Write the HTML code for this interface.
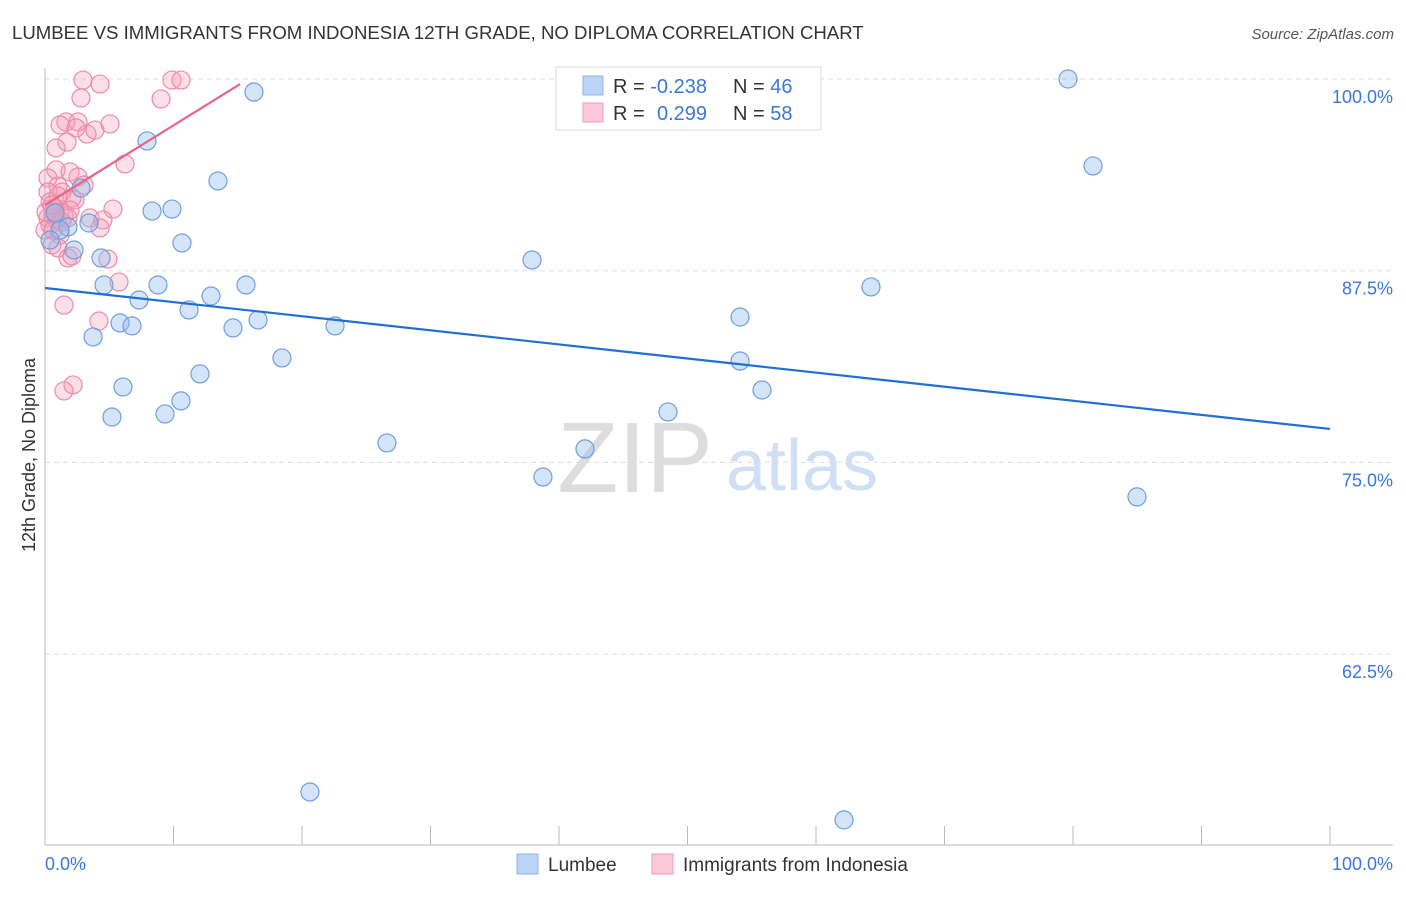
<!DOCTYPE html>
<html><head><meta charset="utf-8"><style>
body{margin:0;background:#fff;font-family:"Liberation Sans",sans-serif;}
svg text{font-family:"Liberation Sans",sans-serif;}
</style></head><body>
<svg id="chart" width="1406" height="892" xmlns="http://www.w3.org/2000/svg">
<text x="12" y="39" font-size="18.6" fill="#333">LUMBEE VS IMMIGRANTS FROM INDONESIA 12TH GRADE, NO DIPLOMA CORRELATION CHART</text>
<text x="1394" y="39" font-size="15" fill="#555" text-anchor="end" font-style="italic">Source: ZipAtlas.com</text>
<g>
<text x="635" y="492" font-size="100" fill="#ddd" text-anchor="middle" font-family="Liberation Serif">ZIP</text>
<text x="802" y="490" font-size="72" fill="#cfe0f5" text-anchor="middle">atlas</text>
</g>
<g id="grid"></g>
<g id="axes"></g>
<g id="pts"></g>
<g id="lines"></g>
<text transform="translate(35,455) rotate(-90)" font-size="18" fill="#333" text-anchor="middle">12th Grade, No Diploma</text>
<text x="45" y="870" font-size="18" fill="#3b78d4">0.0%</text>
<text x="1393" y="870" font-size="18" fill="#3b78d4" text-anchor="end">100.0%</text>
<g>
<rect x="556" y="67" width="265" height="63" fill="#fff" stroke="#ddd"/>
<rect x="583" y="76" width="20" height="19" fill="#bcd4f6" stroke="#8fb3e8"/>
<rect x="583" y="103" width="20" height="19" fill="#fbc9d8" stroke="#f0a0b8"/>
<text x="613" y="93" font-size="20" fill="#333">R = <tspan fill="#3b78d4">-0.238</tspan><tspan x="733">N = </tspan><tspan fill="#3b78d4">46</tspan></text>
<text x="613" y="120" font-size="20" fill="#333">R = <tspan x="657" fill="#3b78d4">0.299</tspan><tspan x="733">N = </tspan><tspan fill="#3b78d4">58</tspan></text>
</g>
<g>
<rect x="517" y="854" width="21" height="20" fill="#bcd4f6" stroke="#8fb3e8"/>
<text x="548" y="871" font-size="19" fill="#333">Lumbee</text>
<rect x="652" y="854" width="21" height="20" fill="#fbc9d8" stroke="#f0a0b8"/>
<text x="683" y="871" font-size="19" fill="#333">Immigrants from Indonesia</text>
</g>
</svg>
<script>
const yTicks=[100,87.5,75,62.5];
const yTickLabels=["100.0%","87.5%","75.0%","62.5%"];
const xTicks=[10,20,30,40,50,60,70,80,90,100];
const blueX=[16.26,7.94,13.46,2.80,8.33,9.88,3.42,1.79,10.66,2.26,4.36,37.90,4.59,8.79,15.64,7.32,12.92,11.21,16.58,14.63,5.84,6.77,22.57,3.74,18.44,6.07,12.06,10.58,5.21,9.34,26.61,42.02,38.75,48.48,54.09,54.09,55.80,64.28,79.61,81.56,84.98,20.62,62.18,0.78,1.17,0.39];
const blueY=[99.15,95.96,93.35,92.89,91.39,91.52,90.61,90.35,89.31,88.85,88.33,88.20,86.57,86.57,86.57,85.59,85.85,84.94,84.29,83.77,84.09,83.90,83.90,83.18,81.81,79.92,80.77,79.01,77.96,78.16,76.27,75.88,74.05,78.29,84.48,81.61,79.72,86.44,100,94.33,72.75,53.51,51.69,91.26,90.15,89.50];
const pinkX=[2.96,4.28,9.88,10.58,2.80,9.03,1.63,2.57,1.17,2.41,3.27,1.71,0.86,6.23,0.86,1.95,2.57,0.23,1.01,0.23,1.32,2.10,2.33,0.39,5.29,0.78,1.17,0.62,0.23,0.93,3.50,4.51,0.39,1.48,0,1.17,0.54,1.01,1.79,4.90,5.76,1.48,4.20,2.18,1.48,0.08,1.95,0.62,3.89,5.06,2.10,1.01,3.04,4.28,1.32,0.78,1.79,0.54];
const pinkY=[99.93,99.67,99.93,99.93,98.76,98.70,97.20,97.20,97.00,96.81,96.41,95.89,95.50,94.46,94.07,93.94,93.61,93.55,93.02,92.63,92.63,92.24,92.11,91.98,91.52,91.59,91.33,91.13,90.94,90.81,90.94,90.81,90.48,91.07,90.15,89.83,89.18,88.98,88.33,88.26,86.76,85.26,84.22,80.05,79.66,91.33,91.46,90.15,96.67,97.07,88.46,92.37,93.09,90.29,90.68,91.33,90.94,91.79];
const blueTrend=[[0,86.37],[100,77.18]];
const pinkTrend=[[0,91.78],[15.18,99.67]];
const NS="http://www.w3.org/2000/svg";
const X=v=>45+v*12.85;
const Y=v=>79+(100-v)*191.7/12.5;
function mk(tag,attrs,parent){const e=document.createElementNS(NS,tag);for(const k in attrs)e.setAttribute(k,attrs[k]);document.getElementById(parent).appendChild(e);return e;}
yTicks.forEach((t,i)=>{
  const l=mk('line',{x1:45,x2:1393,y1:Y(t),y2:Y(t),stroke:'#ddd','stroke-dasharray':'5,4'},'grid');
  
  
  const tx=mk('text',{x:1393,y:Y(t)+24,'font-size':18,fill:'#3b78d4','text-anchor':'end'},'grid');
  tx.textContent=yTickLabels[i];
  
  
});
const ax=mk('line',{x1:45,x2:45,y1:68,y2:845,stroke:'#bbb'},'axes');


const bx=mk('line',{x1:45,x2:1393,y1:845,y2:845,stroke:'#bbb'},'axes');


xTicks.forEach(t=>{
  const l=mk('line',{x1:X(t),x2:X(t),y1:826,y2:845,stroke:'#bbb'},'axes');
  
  
});
pinkX.forEach((v,i)=>{
  const c=mk('circle',{cx:X(v),cy:Y(pinkY[i]),r:9,fill:'rgba(244,160,185,0.32)',stroke:'#ee8aa8','stroke-width':1.2},'pts');
  
  
});
blueX.forEach((v,i)=>{
  const c=mk('circle',{cx:X(v),cy:Y(blueY[i]),r:9,fill:'rgba(147,187,240,0.4)',stroke:'#6f9fe0','stroke-width':1.2},'pts');
  
  
});
const bl=mk('line',{x1:X(blueTrend[0][0]),y1:Y(blueTrend[0][1]),x2:X(blueTrend[1][0]),y2:Y(blueTrend[1][1]),stroke:'#1f6fd6','stroke-width':2.2},'lines');


const pl=mk('line',{x1:X(pinkTrend[0][0]),y1:Y(pinkTrend[0][1]),x2:X(pinkTrend[1][0]),y2:Y(pinkTrend[1][1]),stroke:'#e8648d','stroke-width':2.2},'lines');


</script>
</body></html>
